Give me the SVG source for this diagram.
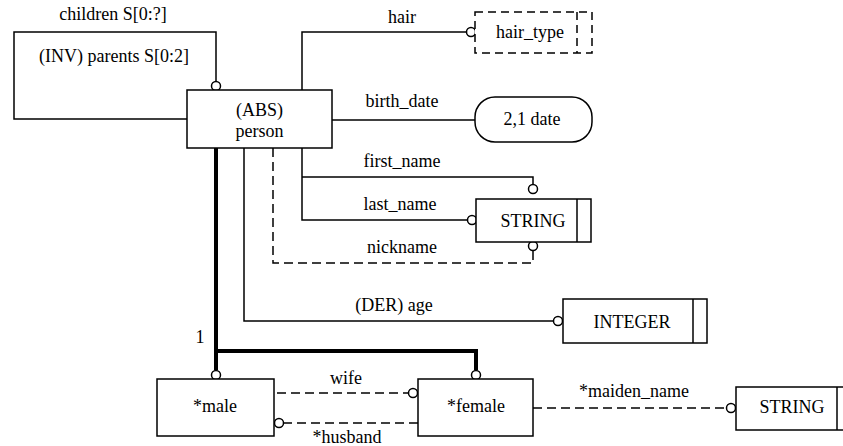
<svg xmlns="http://www.w3.org/2000/svg" width="843" height="446" viewBox="0 0 843 446">
<style>
.b{fill:#fff;stroke:#000;stroke-width:1.5}
.l{fill:none;stroke:#000;stroke-width:1.5}
.d{fill:none;stroke:#000;stroke-width:1.5;stroke-dasharray:9,5}
.k{fill:none;stroke:#000;stroke-width:4}
.c{fill:#fff;stroke:#000;stroke-width:1.5}
text{font-family:"Liberation Serif","Times New Roman",serif;font-size:18px;fill:#000;text-anchor:middle}
</style>
<rect width="843" height="446" fill="#fff"/>
<g id="connectors">
  <polyline class="l" points="187,119 14,119 14,32 216,32 216,82"/>
  <circle class="c" cx="216" cy="86" r="4.5"/>
  <polyline class="l" points="302,90 302,32 467,32"/>
  <circle class="c" cx="471" cy="32" r="4.5"/>
  <line class="l" x1="332" y1="120" x2="476" y2="120"/>
  <polyline class="l" points="302,148 302,220 468,220"/>
  <circle class="c" cx="472" cy="220" r="4.5"/>
  <polyline class="l" points="302,177 533,177 533,185"/>
  <circle class="c" cx="533" cy="189" r="4.5"/>
  <polyline class="d" points="273,148 273,263 533,263 533,251"/>
  <circle class="c" cx="533" cy="246" r="4.5"/>
  <polyline class="l" points="244,148 244,321 554,321"/>
  <circle class="c" cx="558" cy="321" r="4.5"/>
  <polyline class="k" points="216,148 216,351 476,351 476,370"/>
  <line class="k" x1="216" y1="351" x2="216" y2="370"/>
  <circle class="c" cx="216" cy="375" r="4.5"/>
  <circle class="c" cx="476" cy="375" r="4.5"/>
  <line class="d" x1="277" y1="393" x2="409" y2="393"/>
  <circle class="c" cx="413" cy="393" r="4.5"/>
  <line class="d" x1="418" y1="423" x2="283" y2="423"/>
  <circle class="c" cx="279" cy="423" r="4.5"/>
  <line class="d" x1="533" y1="408" x2="726" y2="408"/>
  <circle class="c" cx="731" cy="408" r="4.5"/>
  <text x="113" y="20">children S[0:?]</text>
  <text x="114" y="62">(INV) parents S[0:2]</text>
  <text x="402" y="23">hair</text>
  <text x="402" y="107">birth_date</text>
  <text x="402" y="167">first_name</text>
  <text x="400" y="210">last_name</text>
  <text x="402" y="253">nickname</text>
  <text x="394" y="311">(DER) age</text>
  <text x="200" y="343">1</text>
  <text x="346" y="384">wife</text>
  <text x="347" y="443">*husband</text>
  <text x="634" y="397">*maiden_name</text>
</g>
<g id="person">
  <rect class="b" x="187" y="90" width="145" height="58"/>
  <text x="259.5" y="116">(ABS)</text>
  <text x="259.5" y="137">person</text>
</g>
<g id="hair_type">
  <rect class="b" x="475" y="12" width="117" height="41" style="stroke-dasharray:8,5"/>
  <line class="d" x1="577" y1="12" x2="577" y2="53" style="stroke-dasharray:8,5"/>
  <text x="530" y="38">hair_type</text>
</g>
<g id="date">
  <rect class="b" x="475" y="97" width="117" height="45" rx="20" ry="20"/>
  <text x="532" y="125">2,1 date</text>
</g>
<g id="string1">
  <rect class="b" x="476" y="199" width="115" height="43"/>
  <line class="l" x1="577" y1="199" x2="577" y2="242"/>
  <text x="533" y="227">STRING</text>
</g>
<g id="integer">
  <rect class="b" x="563" y="299" width="144" height="44"/>
  <line class="l" x1="693" y1="299" x2="693" y2="343"/>
  <text x="632" y="328">INTEGER</text>
</g>
<g id="male">
  <rect class="b" x="157" y="379" width="117" height="57"/>
  <text x="215" y="412">*male</text>
</g>
<g id="female">
  <rect class="b" x="418" y="379" width="115" height="57"/>
  <text x="476" y="412">*female</text>
</g>
<g id="string2">
  <rect class="b" x="736" y="387" width="115" height="43"/>
  <line class="l" x1="837" y1="387" x2="837" y2="430"/>
  <text x="792" y="413">STRING</text>
</g>
</svg>
